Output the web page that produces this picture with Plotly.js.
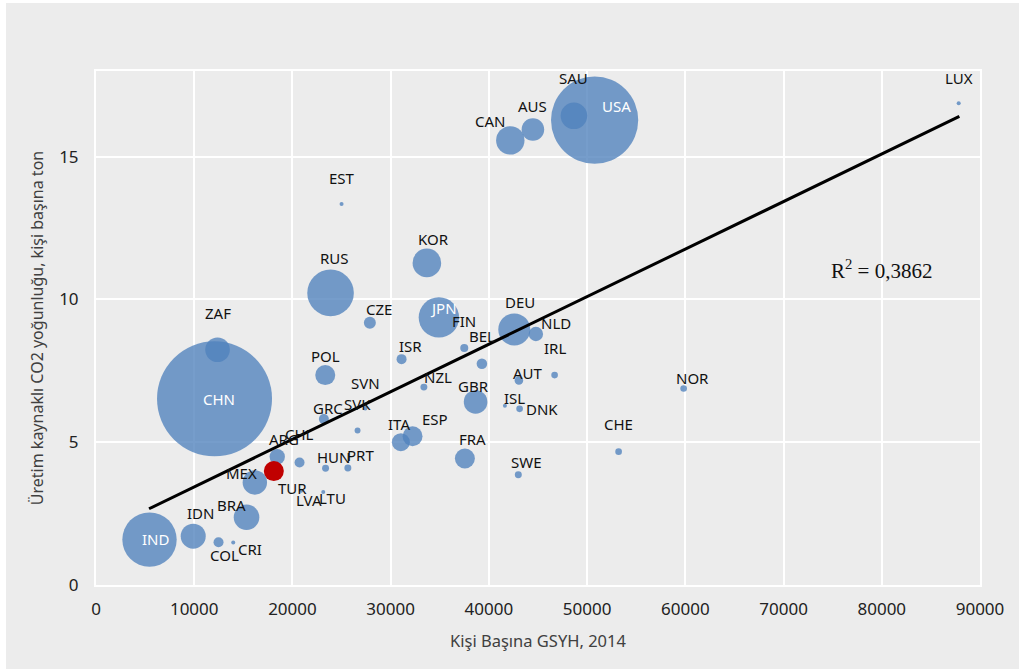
<!DOCTYPE html>
<html>
<head>
<meta charset="utf-8">
<script src="https://cdn.plot.ly/plotly-3.0.1.min.js"></script>
<style>
  html, body { margin: 0; padding: 0; background: #ffffff; }
  #chart { position: absolute; left: 6px; top: 3px; width: 1013px; height: 666px; }
</style>
</head>
<body>
<div id="chart"></div>
<script>
// ---- Data ----
const countries = ["CHN","USA","IND","RUS","JPN","DEU","KOR","CAN","SAU","BRA","IDN","MEX","ZAF","AUS","GBR","ITA","ESP","FRA","POL","ARG","NLD","CZE","GRC","COL","BEL","CHL","ISR","FIN","AUT","NZL","SVK","SVN","HUN","PRT","SWE","DNK","IRL","NOR","CHE","EST","LUX","LTU","LVA","CRI","ISL"];
const gdpPerCapita = [12067,50764,5448,23880,34909,42587,33686,42180,48656,15326,9898,16171,12373,44481,38646,31039,32230,37556,23340,18452,44786,27882,23198,12475,39288,20723,31110,37495,43055,33381,26629,27413,23371,25642,42994,43126,46690,59827,53208,25000,87831,23136,20896,13971,41630];
const co2PerCapita = [6.52,16.28,1.59,10.23,9.37,8.95,11.28,15.57,16.43,2.37,1.71,3.59,8.24,15.95,6.41,5.00,5.21,4.43,7.35,4.49,8.79,9.18,5.81,1.50,7.75,4.29,7.91,8.30,7.16,6.93,5.41,6.19,4.09,4.10,3.86,6.17,7.35,6.88,4.67,13.34,16.87,3.26,3.30,1.49,6.28];
const totalEmissions = [9000,5175,2013,1477,1110,697,556,549,481,446,425,405,411,347,379,220,270,272,272,161,141,98,68,68,76,68,68,44,50,33,24,14,33,33,33,30,30,30,30,11,11,8,8,8,3];

const highlightCountry = ["TUR"];
const highlightGdp = [18106];
const highlightCo2 = [3.99];
const highlightEmissions = [272];

const trendX = [5400, 87900];
const trendY = [2.67, 16.41];
const r2Text = "R<sup>2</sup> = 0,3862";

const xTickVals = [0,10000,20000,30000,40000,50000,60000,70000,80000,90000];
const yTickVals = [0,5,10,15];

// ---- Label placement (pixel offsets, styling only) ----
const labelShift = {
  CHN:[4,0], USA:[22,14], IND:[6,1], RUS:[4,35], JPN:[5,9], DEU:[6,27], KOR:[7,24], CAN:[-20,19],
  SAU:[0,38], BRA:[-15,12], IDN:[7,23], MEX:[-13,9], ZAF:[0,37], AUS:[0,24], GBR:[-2,16],
  ITA:[-2,18], ESP:[22,17], FRA:[8,20], POL:[0,19], ARG:[7,18], NLD:[20,11], CZE:[9,14],
  GRC:[4,11], COL:[6,-13], BEL:[0,28], CHL:[0,29], ISR:[9,13], FIN:[0,27], AUT:[9,8],
  NZL:[14,10], SVK:[0,27], SVN:[0,25], HUN:[8,11], PRT:[13,13], SWE:[8,13], DNK:[22,0],
  IRL:[0,27], NOR:[9,11], CHE:[0,28], EST:[0,26], LUX:[0,25], LTU:[9,-6], LVA:[8,-9],
  CRI:[17,-7], ISL:[10,8], TUR:[19,-17]
};
const whiteLabels = ["CHN","IND","JPN","USA"];

const maxRadiusPx = 57.5;
const sizeRef = Math.max(...totalEmissions) / (2 * maxRadiusPx * maxRadiusPx);

const bubbles = {
  type: "scatter", mode: "markers",
  x: gdpPerCapita, y: co2PerCapita, text: countries,
  marker: { size: totalEmissions, sizemode: "area", sizeref: sizeRef, sizemin: 2,
            color: "rgb(79,129,189)", opacity: 0.78, line: { width: 0 } },
  hoverinfo: "text+x+y", showlegend: false
};
const tur = {
  type: "scatter", mode: "markers",
  x: highlightGdp, y: highlightCo2, text: highlightCountry,
  marker: { size: highlightEmissions, sizemode: "area", sizeref: sizeRef,
            color: "#C00000", opacity: 1, line: { width: 0 } },
  hoverinfo: "text+x+y", showlegend: false
};
const trend = {
  type: "scatter", mode: "lines", x: trendX, y: trendY,
  line: { color: "#000000", width: 3 }, hoverinfo: "skip", showlegend: false
};

const labelFont = "Noto Sans, DejaVu Sans, sans-serif";
const annotations = [];
function addLabels(names, xs, ys) {
  names.forEach((c, i) => {
    const s = labelShift[c] || [0, 22];
    annotations.push({
      x: xs[i], y: ys[i], xref: "x", yref: "y", text: c, showarrow: false,
      xshift: s[0], yshift: s[1],
      font: { family: labelFont, size: 15, color: whiteLabels.includes(c) ? "#ffffff" : "#111111" }
    });
  });
}
addLabels(countries, gdpPerCapita, co2PerCapita);
addLabels(highlightCountry, highlightGdp, highlightCo2);
annotations.push({
  x: 0.889, y: 0.614, xref: "paper", yref: "paper", xanchor: "center", yanchor: "middle",
  text: r2Text, showarrow: false,
  font: { family: "Liberation Serif, DejaVu Serif, serif", size: 21, color: "#111111" }
});

const layout = {
  width: 1013, height: 666,
  margin: { l: 90, r: 39, t: 68, b: 84 },
  paper_bgcolor: "#ececec", plot_bgcolor: "#ececec",
  font: { family: labelFont, color: "#222222" },
  xaxis: {
    range: [0, 90000], tickvals: xTickVals, ticktext: xTickVals.map(String),
    showgrid: true, gridcolor: "#ffffff", gridwidth: 2, zeroline: false,
    showline: true, linecolor: "#ffffff", linewidth: 2, mirror: true,
    ticks: "", ticklabelstandoff: 8,
    tickfont: { family: labelFont, size: 17, color: "#222222" },
    title: { text: "Kişi Başına GSYH, 2014", standoff: 16, font: { family: labelFont, size: 16.5, color: "#404040" } }
  },
  yaxis: {
    range: [0, 18], tickvals: yTickVals, ticktext: yTickVals.map(String),
    showgrid: true, gridcolor: "#ffffff", gridwidth: 2, zeroline: false,
    showline: true, linecolor: "#ffffff", linewidth: 2, mirror: true,
    ticks: "", ticklabelstandoff: 12,
    tickfont: { family: labelFont, size: 17, color: "#222222" },
    title: { text: "Üretim kaynaklı CO2 yoğunluğu, kişi başına ton", standoff: 12, font: { family: labelFont, size: 16, color: "#404040" } }
  },
  annotations: annotations
};

Plotly.newPlot("chart", [bubbles, trend, tur], layout, { staticPlot: true, displayModeBar: false });
</script>
</body>
</html>
